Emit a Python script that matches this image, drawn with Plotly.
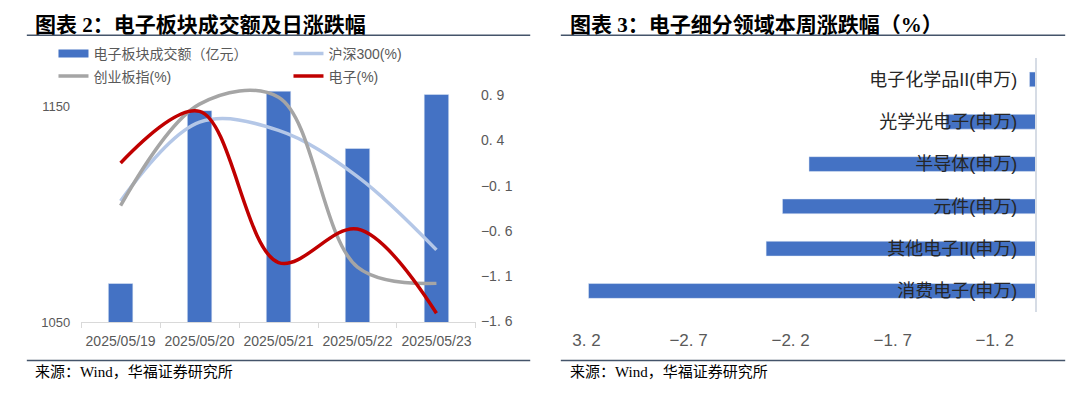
import plotly.graph_objects as go

# ---------------- data ----------------
dates = ["2025/05/19", "2025/05/20", "2025/05/21", "2025/05/22", "2025/05/23"]
turnover = [1068, 1148, 1157, 1130.5, 1155.5]          # 电子板块成交额（亿元）
hs300 = [-0.27, 0.60, 0.51, 0.00, -0.81]               # 沪深300(%)
cyb = [-0.32, 0.80, 0.875, -1.00, -1.18]               # 创业板指(%)
dz = [0.15, 0.72, -0.95, -0.58, -1.51]                 # 电子(%)

left_ticks = [1050, 1150]
right_ticks = [-1.6, -1.1, -0.6, -0.1, 0.4, 0.9]
right_ticktext = ["−1. 6", "−1. 1", "−0. 6", "−0. 1", "0. 4", "0. 9"]

sectors = ["电子化学品II(申万)", "光学光电子(申万)", "半导体(申万)",
           "元件(申万)", "其他电子II(申万)", "消费电子(申万)"]
weekly = [-1.03, -1.44, -2.11, -2.24, -2.32, -3.19]
bar_ticks = [-3.2, -2.7, -2.2, -1.7, -1.2]
bar_ticktext = ["3. 2", "−2. 7", "−2. 2", "−1. 7", "−1. 2"]

W, H = 1080, 399
def px(x): return x / W
def py(y): return 1 - y / H

FONT = "Liberation Sans, Noto Sans CJK SC, sans-serif"
SERIF = "Liberation Serif, Noto Sans CJK SC, serif"
GREY = "#595959"
BLUE = "#4472C4"

fig = go.Figure()

fig.add_trace(go.Bar(x=dates, y=turnover, name="电子板块成交额（亿元）",
                     marker_color=BLUE, width=0.31, showlegend=False,
                     xaxis="x", yaxis="y"))
# legend key for the bar series (wide rectangle like the original)
fig.add_trace(go.Scatter(x=[None], y=[None], name="电子板块成交额（亿元）", mode="lines",
                         line=dict(color=BLUE, width=8), xaxis="x", yaxis="y",
                         legend="legend", hoverinfo="skip"))
fig.add_trace(go.Scatter(x=dates, y=hs300, name="沪深300(%)", mode="lines",
                         line=dict(color="#B4C7E7", width=3.5, shape="spline", smoothing=1.0),
                         xaxis="x", yaxis="y2", legend="legend"))
fig.add_trace(go.Scatter(x=dates, y=cyb, name="创业板指(%)", mode="lines",
                         line=dict(color="#A5A5A5", width=3.5, shape="spline", smoothing=1.0),
                         xaxis="x", yaxis="y2", legend="legend2"))
fig.add_trace(go.Scatter(x=dates, y=dz, name="电子(%)", mode="lines",
                         line=dict(color="#C00000", width=3.5, shape="spline", smoothing=1.0),
                         xaxis="x", yaxis="y2", legend="legend2"))

fig.add_trace(go.Bar(y=sectors, x=weekly, orientation="h", marker_color=BLUE,
                     width=0.35, xaxis="x3", yaxis="y3", showlegend=False))

left_dom = [px(68), px(468)]
left_ydom = [py(329), py(86)]

fig.update_layout(
    width=W, height=H,
    margin=dict(l=0, r=0, t=0, b=0),
    paper_bgcolor="white", plot_bgcolor="white",
    font=dict(family=FONT, color=GREY),
    xaxis=dict(domain=left_dom, anchor="y", type="category", tickangle=0,
               showline=True, linecolor="#D9D9D9", linewidth=1,
               ticks="outside", tickson="boundaries", ticklen=5, tickcolor="#D9D9D9",
               tickfont=dict(size=14, color=GREY), showgrid=False, zeroline=False,
               ticklabelstandoff=6),
    yaxis=dict(domain=left_ydom, anchor="x", range=[1050, 1160.2],
               tickvals=left_ticks, tickfont=dict(size=13, color=GREY),
               showgrid=False, zeroline=False, showline=False, ticklabelstandoff=10),
    yaxis2=dict(domain=left_ydom, anchor="x", overlaying="y", side="right",
                range=[-1.611, 1.019], tickvals=right_ticks, ticktext=right_ticktext,
                tickfont=dict(size=14, color=GREY), showgrid=False, zeroline=False,
                showline=False, ticklabelstandoff=4),
    xaxis3=dict(domain=[px(580), px(1035)], anchor="y3", range=[-3.2, -1.0],
                tickvals=bar_ticks, ticktext=bar_ticktext, tickangle=0,
                tickfont=dict(size=17, color=GREY), showgrid=False, zeroline=False,
                showline=False, ticks="", ticklabelstandoff=16),
    yaxis3=dict(domain=[py(318.5), py(59.5)], anchor="free", position=px(1035),
                side="left", type="category", autorange="reversed",
                showline=True, linecolor="#D6DCE5", linewidth=1.5, ticks="",
                tickfont=dict(size=18, color="#262626"), showgrid=False,
                zeroline=False, ticklabelstandoff=14),
    legend=dict(orientation="h", x=px(40), y=py(55), xanchor="left", yanchor="middle",
                entrywidth=190, entrywidthmode="pixels", bgcolor="rgba(0,0,0,0)",
                font=dict(size=14, color=GREY), traceorder="normal"),
    legend2=dict(orientation="h", x=px(40), y=py(78), xanchor="left", yanchor="middle",
                 entrywidth=190, entrywidthmode="pixels", bgcolor="rgba(0,0,0,0)",
                 font=dict(size=14, color=GREY), traceorder="normal"),
)

# titles
fig.add_annotation(x=px(19), y=py(26), xref="paper", yref="paper", xanchor="left",
                   yanchor="middle", showarrow=False,
                   text="<b>图表 2：电子板块成交额及日涨跌幅</b>",
                   font=dict(size=21, family=SERIF, color="#000000"))
fig.add_annotation(x=px(561), y=py(26), xref="paper", yref="paper", xanchor="left",
                   yanchor="middle", showarrow=False,
                   text="<b>图表 3：电子细分领域本周涨跌幅（%）</b>",
                   font=dict(size=21, family=SERIF, color="#000000"))
# sources
for sx in (19, 561):
    fig.add_annotation(x=px(sx), y=py(380), xref="paper", yref="paper", xanchor="left",
                       yanchor="middle", showarrow=False,
                       text="来源：Wind，华福证券研究所",
                       font=dict(size=15, family=SERIF, color="#000000"))

# rules
for (x0, x1) in ((13, 523), (554, 1065)):
    for yy in (36, 368):
        fig.add_shape(type="line", xref="paper", yref="paper",
                      x0=px(x0), x1=px(x1), y0=py(yy), y1=py(yy),
                      line=dict(color="#44546A", width=1.5))

fig.write_html("out.html", config={"displayModeBar": False},
               post_script="document.body.style.margin='0';document.body.style.overflow='hidden';")
